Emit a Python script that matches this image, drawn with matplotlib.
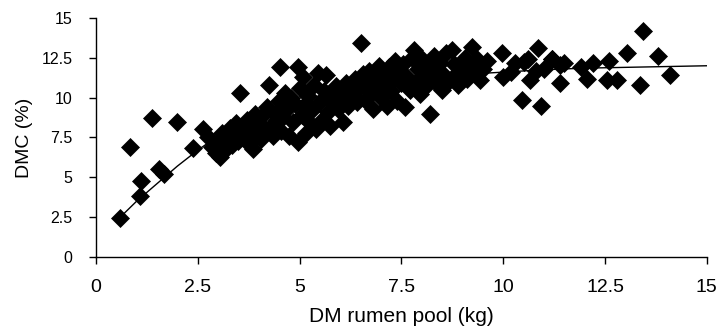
import matplotlib
matplotlib.use("Agg")
import matplotlib.pyplot as plt

# observed points (DM rumen pool kg, DMC %)
pool_x = [0.59, 0.83, 1.08, 1.10, 1.37, 1.55, 1.68, 1.98, 2.38, 2.63,
          2.75, 2.85, 2.95, 3.0, 3.05, 3.1, 3.2, 3.25, 3.3, 3.35, 3.4, 3.45, 3.5, 3.55, 3.6, 3.65,
          3.7, 3.75, 3.8, 3.85, 3.9, 3.95, 4.0, 4.05, 4.1, 4.15, 4.2, 4.25, 4.3, 4.35, 4.4, 4.45, 4.5, 4.52, 4.55,
          4.6, 4.65, 4.7, 4.75, 4.8, 4.85, 4.9, 4.95, 4.97, 5.0, 5.05, 5.08, 5.1, 5.15, 5.2, 5.25, 5.3, 5.35, 5.4, 5.45, 5.5, 5.55,
          5.6, 5.65, 5.7, 5.75, 5.8, 5.85, 5.9, 5.95, 6.0, 6.06, 6.1, 6.15, 6.2, 6.25, 6.3, 6.35, 6.4, 6.45, 6.52, 6.55, 6.6, 6.65,
          6.7, 6.75, 6.8, 6.85, 6.9, 6.95, 7.0, 7.05, 7.1, 7.15, 7.2, 7.25, 7.3, 7.35, 7.4, 7.45, 7.5, 7.55, 7.6, 7.65,
          7.7, 7.75, 7.8, 7.85, 7.9, 7.95, 8.0, 8.05, 8.1, 8.15, 8.2, 8.25, 8.3, 8.35, 8.4, 8.45, 8.5, 8.55,
          8.6, 8.65, 8.74, 8.8, 8.85, 8.9, 9.0, 9.05, 9.1, 9.15, 9.23, 9.3, 9.35, 9.43, 9.5, 9.6,
          9.96, 10.0, 10.2, 10.3, 10.45, 10.5, 10.6, 10.65, 10.8, 10.85, 10.94, 11.0, 11.19, 11.2, 11.4, 11.4, 11.5,
          11.9, 12.05, 12.2, 12.55, 12.6, 12.8, 13.04, 13.36, 13.43, 13.8, 14.1]
dmc = [2.45, 6.9, 3.85, 4.75, 8.7, 5.5, 5.2, 8.5, 6.85, 8.05,
       7.5, 6.9, 6.5, 7.2, 6.3, 7.8, 6.8, 7.5, 8.1, 7.0, 7.7, 8.4, 7.3, 10.3, 8.0, 7.6,
       8.6, 7.1, 8.2, 6.8, 9.0, 7.7, 8.4, 7.4, 8.9, 7.9, 9.4, 10.8, 8.2, 7.6, 9.0, 8.6, 9.8, 11.95, 7.9,
       8.8, 10.3, 9.3, 7.6, 10.0, 8.5, 9.6, 11.9, 7.2, 10.6, 8.9, 11.3, 9.5, 7.8, 10.1, 8.4, 9.2, 10.8, 8.0, 11.55, 9.7, 8.6,
       10.4, 11.4, 9.1, 8.2, 10.0, 9.6, 10.7, 9.3, 10.3, 8.5, 9.9, 10.9, 9.5, 10.5, 10.1, 11.2, 9.7, 10.6, 13.45, 11.5, 9.85, 10.9,
       11.7, 10.3, 9.3, 11.1, 10.6, 12.0, 10.0, 11.4, 10.8, 9.5, 11.9, 10.4, 11.2, 12.3, 9.8, 11.6, 10.9, 12.1, 9.4, 11.3,
       10.5, 12.5, 13.0, 11.0, 11.8, 10.2, 12.4, 11.5, 10.7, 12.0, 9.0, 11.2, 12.6, 10.9, 11.7, 12.2, 10.5, 11.4,
       12.8, 11.0, 13.0, 12.1, 11.5, 10.8, 11.95, 12.5, 11.2, 12.0, 13.2, 11.6, 12.4, 11.1, 11.8, 12.3,
       12.8, 11.3, 11.6, 12.2, 9.85, 12.25, 12.4, 11.1, 11.7, 13.1, 9.45, 11.8, 12.4, 12.4, 12.05, 10.9, 12.2,
       11.95, 11.2, 12.2, 11.1, 12.3, 11.1, 12.8, 10.8, 14.2, 12.6, 11.4]

# fitted response line
fit_x = [0.6, 1.0, 1.5, 2.0, 2.5, 3.0, 3.5, 4.0, 5.0, 6.0, 7.0, 8.0, 9.0, 10.0, 11.0, 12.0, 13.0, 14.0, 15.0]
fit_y = [2.5, 3.5, 4.6, 5.7, 6.7, 7.6, 8.3, 8.9, 9.8, 10.45, 10.9, 11.2, 11.45, 11.6, 11.75, 11.85, 11.9, 11.95, 12.0]

x_ticks = [0, 2.5, 5, 7.5, 10, 12.5, 15]
x_ticklabels = ["0", "2.5", "5", "7.5", "10", "12.5", "15"]
y_ticks = [0, 2.5, 5, 7.5, 10, 12.5, 15]
y_ticklabels = ["0", "2.5", "5", "7.5", "10", "12.5", "15"]

plt.rcParams['font.family'] = ['Liberation Sans', 'DejaVu Sans']

fig = plt.figure(figsize=(7.21, 3.29), dpi=100)
ax = fig.add_axes([0.133, 0.219, 0.8474, 0.7264])

ax.plot(pool_x, dmc, linestyle='none', marker='D', markersize=9.5,
        color='black', markeredgewidth=0.5, zorder=2)
ax.plot(fit_x, fit_y, color='black', linewidth=1.0, zorder=3)

ax.set_xlim(0, 15)
ax.set_ylim(0, 15)
ax.set_xticks(x_ticks)
ax.set_xticklabels(x_ticklabels, fontsize=14)
ax.set_yticks(y_ticks)
ax.set_yticklabels(y_ticklabels, fontsize=11.5,
                   family=['Liberation Sans Narrow', 'Liberation Sans'])
ax.tick_params(direction='out', length=5, width=1, color='black')
ax.tick_params(axis='x', pad=11)
ax.tick_params(axis='y', pad=12)

for side in ['top', 'right']:
    ax.spines[side].set_visible(False)
for side in ['left', 'bottom']:
    ax.spines[side].set_linewidth(1)
    ax.spines[side].set_color('black')

ax.set_xlabel('DM rumen pool (kg)', fontsize=15, labelpad=8)
ax.set_ylabel('DMC (%)', fontsize=14, labelpad=6)

fig.savefig('out.png', dpi=100)
